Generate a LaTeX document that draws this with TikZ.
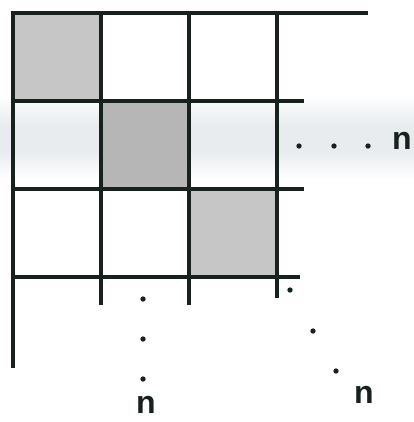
\documentclass[tikz,border=0pt]{standalone}
\usepackage{fontspec}
\setmainfont{Liberation Sans}
\usepackage{xcolor}
\usepackage{tikz}
\usetikzlibrary{positioning,calc}

\definecolor{cellgray}{HTML}{C6C6C6}
\definecolor{bandblue}{HTML}{E8ECEF}
\definecolor{gridink}{HTML}{17221C}

\begin{document}
\begin{tikzpicture}[x=0.75pt, y=-0.75pt,
  grid/.style={line width=3.4pt, draw=gridink},
  cell/.style={fill=cellgray},
  dot/.style={circle, fill=gridink, inner sep=0pt, minimum size=4pt},
  lbl/.style={font=\fontsize{24}{24}\selectfont\bfseries, inner sep=0pt, text=gridink}
]
  \useasboundingbox (0,0) rectangle (414,422);
  % faint band behind the middle row
  \shade[top color=white, bottom color=bandblue] (0,95) rectangle (414,125);
  \fill[bandblue] (0,125) rectangle (414,150);
  \shade[top color=bandblue, bottom color=white] (0,150) rectangle (414,180);

  % shaded diagonal cells
  \fill[cell] (13,13) rectangle (101,101);
  \fill[cell, fill=cellgray!92!black] (101,101) rectangle (189,189);
  \fill[cell] (189,189) rectangle (277,277);

  % rows
  \draw[grid] (11,13) -- (368,13);
  \draw[grid] (11,101) -- (304,101);
  \draw[grid] (11,189) -- (304,189);
  \draw[grid] (13,277) -- (300,277);
  % columns
  \draw[grid] (13,11) -- (13,368);
  \draw[grid] (101,11) -- (101,305);
  \draw[grid] (189,11) -- (189,305);
  \draw[grid] (277,11) -- (277,298);

  % dots along the row
  \foreach \x in {299,334,368} \node[dot] at (\x,146) {};
  % dots down the column
  \foreach \y in {299,339,379} \node[dot] at (143,\y) {};
  % dots on the diagonal
  \node[dot] at (290,290) {};
  \node[dot] at (313,331) {};
  \node[dot] at (336,371) {};

  \node[lbl] (nrow) at (402,141) {n};
  \node[lbl] (ncol) at (146,405) {n};
  \node[lbl] (ndiag) at (364,395) {n};
\end{tikzpicture}
\end{document}
